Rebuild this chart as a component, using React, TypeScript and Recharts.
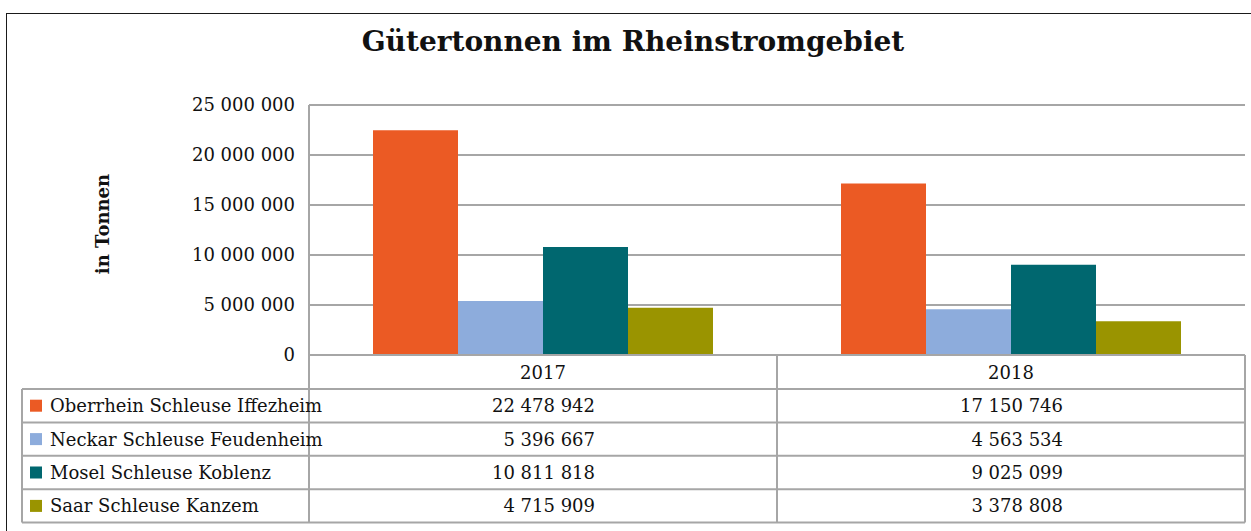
import React from 'react';
import { BarChart, Bar, XAxis, YAxis, CartesianGrid } from 'recharts';

const categories = ['2017', '2018'];
const seriesNames = [
  'Oberrhein Schleuse Iffezheim',
  'Neckar Schleuse Feudenheim',
  'Mosel Schleuse Koblenz',
  'Saar Schleuse Kanzem',
];
const oberrhein = [22478942, 17150746];
const neckar = [5396667, 4563534];
const mosel = [10811818, 9025099];
const saar = [4715909, 3378808];
const yTicks = [0, 5000000, 10000000, 15000000, 20000000, 25000000];

const seriesValues = [oberrhein, neckar, mosel, saar];
const seriesKeys = ['oberrhein', 'neckar', 'mosel', 'saar'];
const colors = ['#EB5A24', '#8DACDC', '#00676F', '#9A9400'];

const data = categories.map((c, i) => ({
  year: c,
  oberrhein: oberrhein[i],
  neckar: neckar[i],
  mosel: mosel[i],
  saar: saar[i],
}));

const fmt = (v: number) => String(v).replace(/\B(?=(\d{3})+(?!\d))/g, ' ');

const FONT = '"DejaVu Serif", serif';
const GRID = '#a6a6a6';

const W = 1251;
const H = 531;
const plotLeft = 309;
const plotRight = 1245;
const plotTop = 105;
const plotBottom = 355;
const tableLeft = 22;
const rowH = 33.4;
const headerBottom = 389;
const chartBottomMargin = 30;

export default function App() {
  const band = (plotRight - plotLeft) / categories.length;
  const rowTops = seriesNames.map((_, i) => headerBottom + i * rowH);
  const tableBottom = headerBottom + seriesNames.length * rowH;
  const colXs = categories.map((_, i) => plotLeft + i * band);
  return (
    <div
      style={{
        position: 'fixed',
        left: 0,
        top: 0,
        width: W,
        height: H,
        overflow: 'hidden',
        background: '#fff',
        fontFamily: FONT,
      }}
    >
      <div
        style={{
          position: 'absolute',
          left: 6,
          top: 13,
          width: 1270,
          height: 540,
          border: '1.5px solid #1a1a1a',
          boxSizing: 'border-box',
        }}
      />
      <div style={{ position: 'absolute', left: 0, top: 0 }}>
        <BarChart
          width={W}
          height={plotBottom + chartBottomMargin}
          data={data}
          margin={{ top: plotTop, right: W - plotRight, left: 0, bottom: chartBottomMargin }}
          barCategoryGap={64}
          barGap={0}
        >
          <CartesianGrid vertical={false} stroke={GRID} strokeWidth={2} />
          <XAxis dataKey="year" hide />
          <YAxis
            width={plotLeft}
            domain={[0, 25000000]}
            ticks={yTicks}
            tickFormatter={fmt}
            tickLine={false}
            tickSize={8}
            tickMargin={6}
            axisLine={{ stroke: GRID, strokeWidth: 2 }}
            tick={{ fill: '#111', fontSize: 18, fontFamily: FONT }}
            interval={0}
          />
          {seriesKeys.map((k, i) => (
            <Bar key={k} dataKey={k} fill={colors[i]} isAnimationActive={false} />
          ))}
        </BarChart>
      </div>
      <svg
        width={W}
        height={H}
        style={{ position: 'absolute', left: 0, top: 0, pointerEvents: 'none' }}
        fontFamily={FONT}
      >
        <text x={633} y={51} textAnchor="middle" fontSize={28} fontWeight="bold" fill="#111">
          Gütertonnen im Rheinstromgebiet
        </text>
        <text
          x={109}
          y={224}
          transform="rotate(-90 109 224)"
          textAnchor="middle"
          fontSize={18}
          fontWeight="bold"
          fill="#111"
        >
          in Tonnen
        </text>
        <line x1={plotLeft} x2={plotRight} y1={plotBottom} y2={plotBottom} stroke={GRID} strokeWidth={2} />
        {categories.map((c, i) => (
          <text
            key={c}
            x={colXs[i] + band / 2}
            y={(plotBottom + headerBottom) / 2 + 6.5}
            textAnchor="middle"
            fontSize={18}
            fill="#111"
          >
            {c}
          </text>
        ))}
        {[headerBottom, ...rowTops.map((t) => t + rowH)].map((y, i) => (
          <line key={'h' + i} x1={tableLeft} x2={plotRight} y1={y} y2={y} stroke={GRID} strokeWidth={2} />
        ))}
        <line x1={tableLeft} x2={tableLeft} y1={headerBottom} y2={tableBottom} stroke={GRID} strokeWidth={2} />
        {[plotLeft, ...colXs.slice(1), plotRight].map((x, i) => (
          <line key={'v' + i} x1={x} x2={x} y1={plotBottom} y2={tableBottom} stroke={GRID} strokeWidth={2} />
        ))}
        {seriesNames.map((name, r) => {
          const cy = rowTops[r] + rowH / 2;
          return (
            <g key={name}>
              <rect x={30} y={cy - 6} width={12} height={12} fill={colors[r]} />
              <text x={50} y={cy + 6.5} fontSize={18} fill="#111">
                {name}
              </text>
              {categories.map((c, i) => (
                <text
                  key={c}
                  x={colXs[i] + band / 2 + 52}
                  y={cy + 6.5}
                  textAnchor="end"
                  fontSize={18}
                  fill="#111"
                >
                  {fmt(seriesValues[r][i])}
                </text>
              ))}
            </g>
          );
        })}
      </svg>
    </div>
  );
}
